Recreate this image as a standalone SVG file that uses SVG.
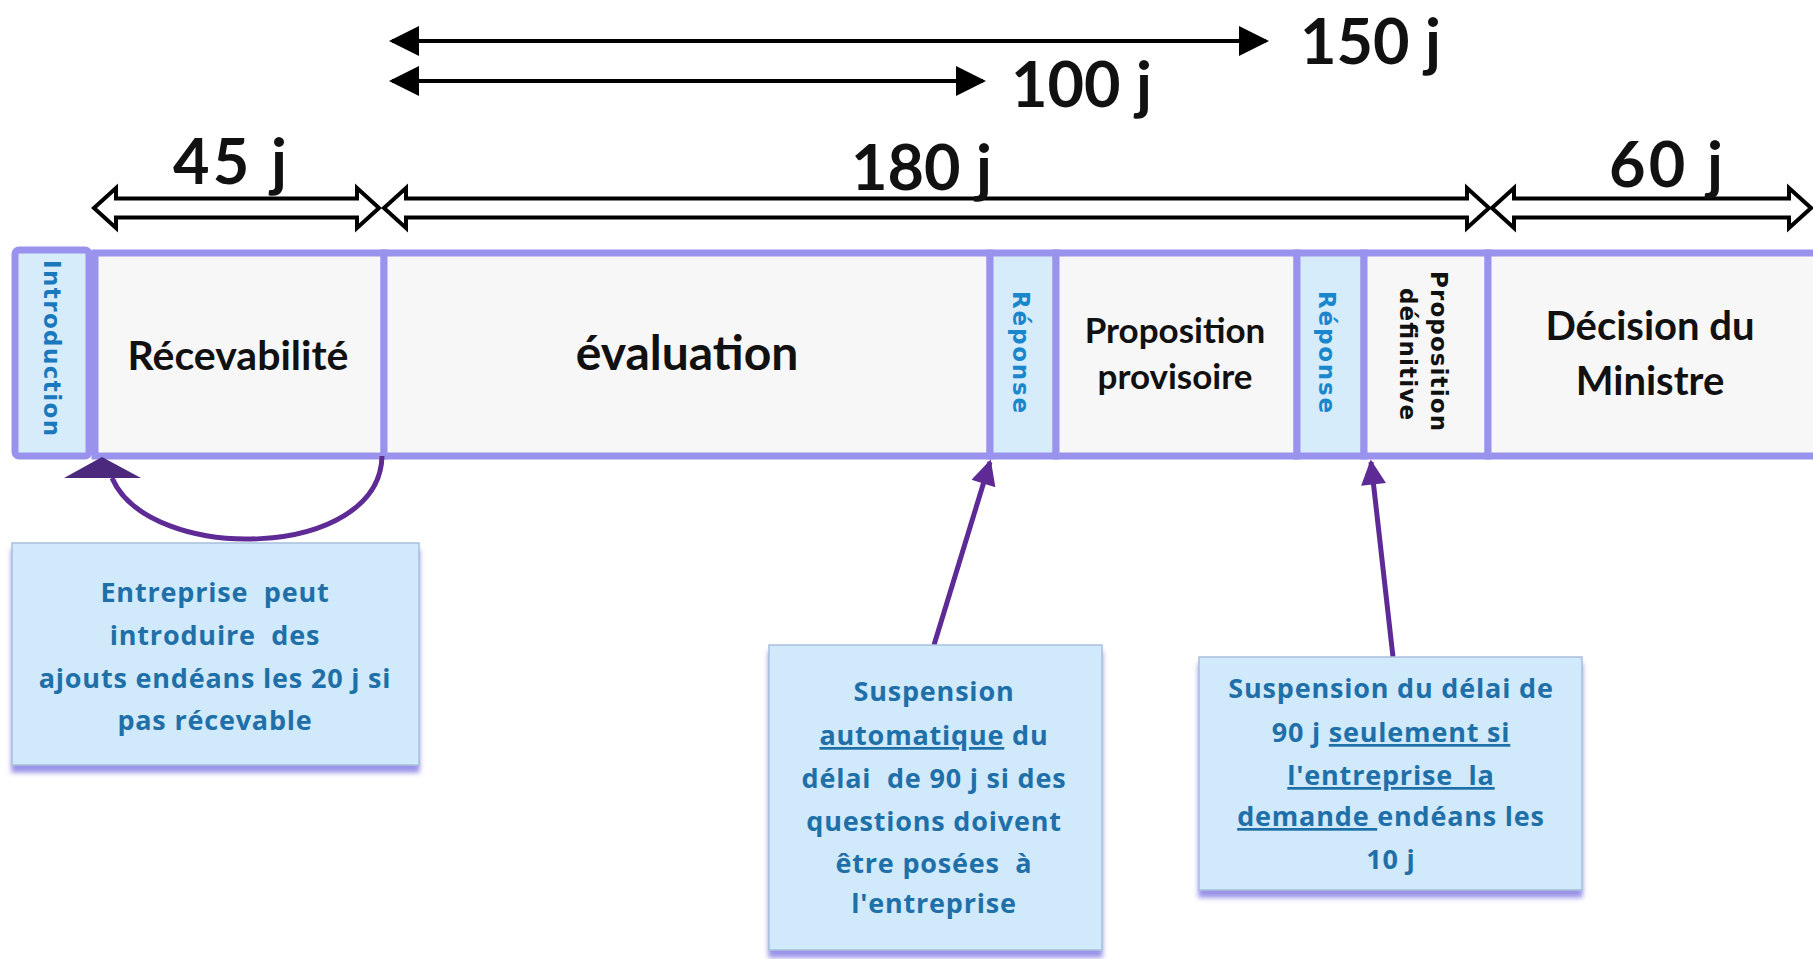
<svg xmlns="http://www.w3.org/2000/svg" width="1813" height="959" viewBox="0 0 1813 959">
<style>
.bar{fill:#f7f7f8;stroke:#9a93ee;stroke-width:7}
.blue{fill:#d6ecfa;stroke:#9a93ee;stroke-width:7}
.lbl{font-family:Lato,"Liberation Sans",sans-serif;font-weight:bold;fill:#111;text-anchor:middle}
.num{font-family:Lato,"Liberation Sans",sans-serif;font-weight:bold;fill:#111;font-size:63px}
.vert{font-family:"DejaVu Sans",sans-serif;font-weight:bold;font-size:23px;text-anchor:middle}
.note{fill:#d0eafc;stroke:#a8c0dc;stroke-width:1.5;filter:url(#sh)}
.nt{font-family:"Open Sans","DejaVu Sans",sans-serif;font-weight:bold;font-size:27px;letter-spacing:0.8px;fill:#1f6fa8;text-anchor:middle;white-space:pre}
.hollow{fill:#fff;stroke:#000;stroke-width:4;stroke-linejoin:miter}
.dim{stroke:#000;stroke-width:4;fill:none}
.pl{stroke:#5e2a95;stroke-width:5;fill:none}
</style>
<defs>
<marker id="ah" viewBox="0 0 10 10" refX="9" refY="5" markerWidth="7.5" markerHeight="7.5" orient="auto-start-reverse" markerUnits="strokeWidth"><path d="M0,0 L10,5 L0,10 Z" fill="#000"/></marker>
<marker id="pa" viewBox="0 0 10 10" refX="9" refY="5" markerWidth="6.5" markerHeight="5" orient="auto" markerUnits="strokeWidth"><path d="M0,0 L10,5 L0,10 Z" fill="#5e2a95"/></marker>
<filter id="sh" x="-10%" y="-10%" width="120%" height="130%"><feDropShadow dx="0" dy="7" stdDeviation="2.5" flood-color="#8f87e6" flood-opacity="0.9"/></filter>
</defs>
<rect width="1813" height="959" fill="#fff"/>

<g id="dimensions">
<line class="dim" x1="392" y1="41" x2="1266" y2="41" marker-start="url(#ah)" marker-end="url(#ah)"/>
<line class="dim" x1="392" y1="81" x2="983" y2="81" marker-start="url(#ah)" marker-end="url(#ah)"/>
<path class="hollow" d="M94,208 L116,188 L116,198.5 L357,198.5 L357,188 L379,208 L357,228 L357,217.5 L116,217.5 L116,228 Z"/>
<path class="hollow" d="M384,208 L406,188 L406,198.5 L1467,198.5 L1467,188 L1489,208 L1467,228 L1467,217.5 L406,217.5 L406,228 Z"/>
<path class="hollow" d="M1492,208 L1514,188 L1514,198.5 L1789,198.5 L1789,188 L1811,208 L1789,228 L1789,217.5 L1514,217.5 L1514,228 Z"/>
<text class="num" x="1300" y="64">150 j</text>
<text class="num" x="1011" y="107">100 j</text>
<text class="num" x="173" y="184" textLength="114">45 j</text>
<text class="num" x="851" y="190">180 j</text>
<text class="num" x="1609" y="187" textLength="114">60 j</text>
</g>

<g id="introduction"><rect class="blue" x="15" y="250" width="74" height="206" rx="4"/>
<text class="vert" fill="#1a78bd" transform="translate(52,348) rotate(90)" y="8" textLength="176" lengthAdjust="spacing">Introduction</text></g>
<g id="recevabilite"><rect class="bar" x="95" y="253" width="289" height="203"/>
<text class="lbl" x="238" y="370" font-size="41">Récevabilité</text></g>
<g id="evaluation"><rect class="bar" x="384" y="253" width="606" height="203"/>
<text class="lbl" x="687" y="370" font-size="48">évaluation</text></g>
<g id="reponse1"><rect class="blue" x="990" y="253" width="66" height="203"/>
<text class="vert" fill="#1a86cc" transform="translate(1021,352) rotate(90)" y="8" textLength="122" lengthAdjust="spacing">Réponse</text></g>
<g id="proposition-provisoire"><rect class="bar" x="1056" y="253" width="241" height="203"/>
<text class="lbl" x="1175" y="343" font-size="35">Proposition</text>
<text class="lbl" x="1175" y="389" font-size="35">provisoire</text></g>
<g id="reponse2"><rect class="blue" x="1297" y="253" width="67" height="203"/>
<text class="vert" fill="#1a86cc" transform="translate(1327,352) rotate(90)" y="8" textLength="122" lengthAdjust="spacing">Réponse</text></g>
<g id="proposition-definitive"><rect class="bar" x="1364" y="253" width="124" height="203"/>
<text class="vert" fill="#111" transform="translate(1439,351) rotate(90)" y="8" textLength="160" lengthAdjust="spacing">Proposition</text>
<text class="vert" fill="#111" transform="translate(1408,354) rotate(90)" y="8" textLength="132" lengthAdjust="spacing">définitive</text></g>
<g id="decision"><rect class="bar" x="1488" y="253" width="330" height="203"/>
<text class="lbl" x="1650" y="340" font-size="40">Décision du</text>
<text class="lbl" x="1650" y="395" font-size="40">Ministre</text></g>

<g id="connectors">
<path class="pl" d="M382,456 C380,560 150,565 112,478"/>
<polygon points="102,457 64,478 141,478" fill="#4b2a7e"/>
<line class="pl" x1="934" y1="645" x2="990" y2="462" marker-end="url(#pa)"/>
<line class="pl" x1="1393" y1="657" x2="1371" y2="462" marker-end="url(#pa)"/>
</g>

<g id="note1"><rect class="note" x="12" y="543" width="407" height="222"/>
<text class="nt" x="215" y="602">Entreprise  peut</text>
<text class="nt" x="215" y="645">introduire  des</text>
<text class="nt" x="215" y="688">ajouts endéans les 20 j si</text>
<text class="nt" x="215" y="730">pas récevable</text></g>

<g id="note2"><rect class="note" x="769" y="645" width="333" height="305"/>
<text class="nt" x="934" y="701">Suspension</text>
<text class="nt" x="934" y="745"><tspan text-decoration="underline">automatique</tspan> du</text>
<text class="nt" x="934" y="788">délai  de 90 j si des</text>
<text class="nt" x="934" y="831">questions doivent</text>
<text class="nt" x="934" y="873">être posées  à</text>
<text class="nt" x="934" y="913">l'entreprise</text></g>

<g id="note3"><rect class="note" x="1199" y="657" width="383" height="233"/>
<text class="nt" x="1391" y="698">Suspension du délai de</text>
<text class="nt" x="1391" y="742">90 j <tspan text-decoration="underline">seulement si</tspan></text>
<text class="nt" x="1391" y="785"><tspan text-decoration="underline">l'entreprise  la</tspan></text>
<text class="nt" x="1391" y="826"><tspan text-decoration="underline">demande </tspan>endéans les</text>
<text class="nt" x="1391" y="869">10 j</text></g>
</svg>
